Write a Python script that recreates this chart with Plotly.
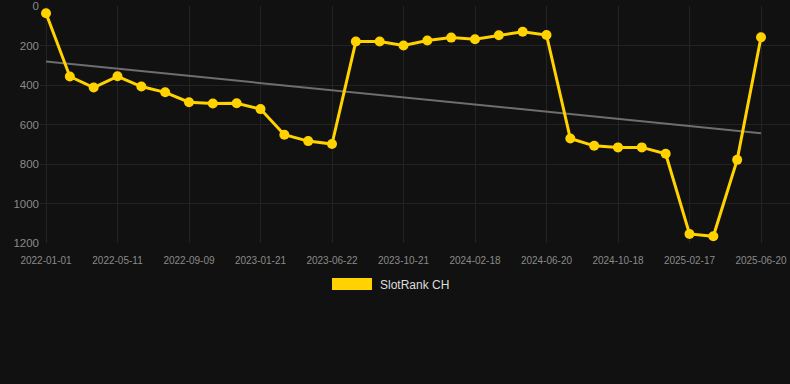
import numpy as np
import plotly.graph_objects as go

dates = ["2022-01-01", "2022-02-13", "2022-03-28", "2022-05-11", "2022-06-20", "2022-07-30",
         "2022-09-09", "2022-10-23", "2022-12-07", "2023-01-21", "2023-03-11", "2023-05-01",
         "2023-06-22", "2023-08-01", "2023-09-11", "2023-10-21", "2023-12-02", "2024-01-10",
         "2024-02-18", "2024-03-30", "2024-05-10", "2024-06-20", "2024-07-30", "2024-09-08",
         "2024-10-18", "2024-11-29", "2025-01-08", "2025-02-17", "2025-03-28", "2025-05-09",
         "2025-06-20"]
ranks = [37, 357, 413, 356, 408, 437, 487, 494, 492, 522, 652, 684, 699,
         180, 180, 200, 175, 160, 168, 148, 130, 147,
         671, 708, 716, 716, 748, 1154, 1166, 779, 158]
tick_labels = dates[::3]
y_ticks = [0, 200, 400, 600, 800, 1000, 1200]
series_name = "SlotRank CH"

idx = np.arange(len(ranks))
slope, intercept = np.polyfit(idx, ranks, 1)
trend = slope * idx + intercept

W, H = 790, 384
L, B, T = 40, 141, 6
PW, PH = W - L, H - B - T

fig = go.Figure()
fig.add_trace(go.Scatter(x=dates, y=trend, mode="lines",
                         line=dict(color="#6e6e6e", width=2), showlegend=False, hoverinfo="skip"))
fig.add_trace(go.Scatter(x=dates, y=ranks, mode="lines+markers", name=series_name,
                         line=dict(color="#FFD200", width=3),
                         marker=dict(color="#FFD200", size=10), showlegend=False))

# legend swatch + label (page coords: rect 332-372 x, 278-290 y; text at 379, 285)
fig.add_shape(type="rect", xref="paper", yref="paper",
              x0=(332 - L) / PW, x1=(372 - L) / PW,
              y0=(T + PH - 290) / PH, y1=(T + PH - 278) / PH,
              fillcolor="#FFD200", line=dict(width=0))
fig.add_annotation(text=series_name, xref="paper", yref="paper",
                   x=(378 - L) / PW, y=(T + PH - 285) / PH, xanchor="left", yanchor="middle",
                   showarrow=False, font=dict(size=12, color="#dddddd"))

fig.update_layout(
    width=W, height=H,
    paper_bgcolor="#111111", plot_bgcolor="#111111",
    margin=dict(l=L, r=0, t=T, b=B),
    font=dict(family="Liberation Sans, Arial, sans-serif", color="#8a8a8a"),
    showlegend=False,
)
fig.update_xaxes(type="category", range=[-0.252, 31.217],
                 tickmode="array", tickvals=tick_labels, ticktext=tick_labels,
                 tickfont=dict(size=10, color="#8a8a8a"),
                 ticks="outside", ticklen=8, tickcolor="rgba(0,0,0,0)",
                 showgrid=True, gridcolor="#232323", gridwidth=1,
                 zeroline=False, showline=False)
fig.update_yaxes(range=[1200, 0], tickvals=y_ticks, ticklabeloverflow="allow",
                 tickfont=dict(size=11.5, color="#8a8a8a"),
                 showgrid=True, gridcolor="#232323", gridwidth=1,
                 zeroline=False, showline=False, ticks="")

fig.write_html("out.html", config={"displayModeBar": False},
               post_script="document.body.style.margin='0';document.body.style.background='#111111';")
